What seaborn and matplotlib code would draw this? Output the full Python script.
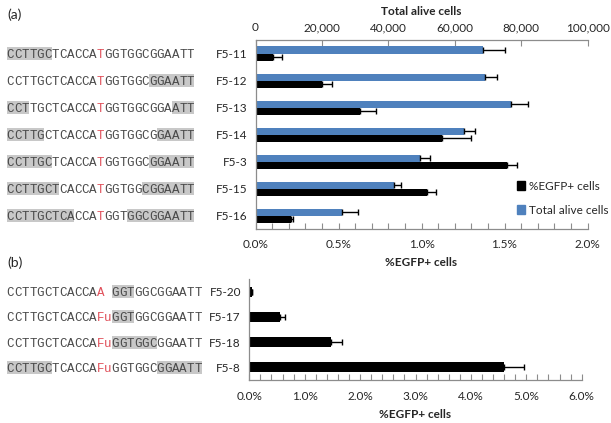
import matplotlib
matplotlib.use('Agg')
import matplotlib.pyplot as plt
import matplotlib.transforms as mtransforms
from matplotlib.patches import Rectangle
from matplotlib.ticker import MultipleLocator, FuncFormatter
import numpy as np
import pandas as pd
import seaborn as sns

# ---- data ----
samples_a = ['F5-11', 'F5-12', 'F5-13', 'F5-14', 'F5-3', 'F5-15', 'F5-16']
egfp_a = [0.104, 0.40, 0.628, 1.125, 1.513, 1.034, 0.214]
egfp_a_err = [0.054, 0.063, 0.098, 0.175, 0.064, 0.052, 0.014]
total_a = [68600, 69200, 76900, 62700, 49500, 41700, 26000]
total_a_err = [6500, 3600, 5300, 3300, 3200, 2000, 4800]

samples_b = ['F5-20', 'F5-17', 'F5-18', 'F5-8']
egfp_b = [0.04, 0.554, 1.48, 4.60]
egfp_b_err = [0.01, 0.09, 0.20, 0.36]

seqs_a = ['CCTTGCTCACCATGGTGGCGGAATT'] * 7
boxes_a = [[(0, 6)], [(19, 25)], [(0, 3), (22, 25)], [(0, 5), (20, 25)],
           [(0, 6), (19, 25)], [(0, 7), (18, 25)], [(0, 9), (16, 25)]]
red_a = [[12]] * 7

seqs_b = ['CCTTGCTCACCAA GGTGGCGGAATT', 'CCTTGCTCACCAFuGGTGGCGGAATT',
          'CCTTGCTCACCAFuGGTGGCGGAATT', 'CCTTGCTCACCAFuGGTGGCGGAATT']
boxes_b = [[(14, 17)], [(14, 17)], [(14, 20)], [(0, 6), (20, 26)]]
red_b = [[12], [12, 13], [12, 13], [12, 13]]

TOTAL_MAX = 100000
PCT_MAX_A = 2.0
PCT_MAX_B = 6.0

BLUE = '#4f81bd'
GRAY_AX = '#8c8c8c'
TXT = '#262626'
SEQ_TXT = '#4a4a4a'
SEQ_RED = '#e0505a'
HILITE = '#c8c8c8'
FS = 8.5

W, H = 611, 423

sns.set_theme(style='white')
plt.rcParams['font.family'] = ['Lato', 'DejaVu Sans']
plt.rcParams['font.size'] = FS

fig = plt.figure(figsize=(W / 100, H / 100), dpi=100)
ax_a = fig.add_axes([255.5 / W, 1 - 229.3 / H, 332 / W, 189.3 / H])
ax_b = fig.add_axes([249.3 / W, 1 - 380 / H, 332.4 / W, 101 / H])

# ---- panel (a): both series on one axis, totals rescaled to the % axis ----
scale = PCT_MAX_A / TOTAL_MAX
df_a = pd.DataFrame({
    'sample': samples_a * 2,
    'series': ['Total alive cells'] * len(samples_a) + ['%EGFP+ cells'] * len(samples_a),
    'value': [t * scale for t in total_a] + egfp_a,
})
hue_order = ['Total alive cells', '%EGFP+ cells']
sns.barplot(data=df_a, y='sample', x='value', hue='series', hue_order=hue_order,
            palette={'Total alive cells': BLUE, '%EGFP+ cells': 'black'},
            width=0.52, saturation=1, linewidth=0, legend=False, ax=ax_a)

errs = [[e * scale for e in total_a_err], egfp_a_err]
for cont, err in zip(ax_a.containers, errs):
    xs = [b.get_width() for b in cont]
    ys = [b.get_y() + b.get_height() / 2 for b in cont]
    ax_a.errorbar(xs, ys, xerr=[np.zeros(len(err)), err], fmt='none',
                  ecolor='black', elinewidth=1, capsize=2.5, capthick=1)

# ---- panel (b) ----
df_b = pd.DataFrame({'sample': samples_b, 'value': egfp_b})
sns.barplot(data=df_b, y='sample', x='value', color='black', width=0.4,
            saturation=1, linewidth=0, ax=ax_b)
cont = ax_b.containers[0]
ax_b.errorbar([b.get_width() for b in cont],
              [b.get_y() + b.get_height() / 2 for b in cont],
              xerr=[np.zeros(len(egfp_b_err)), egfp_b_err], fmt='none',
              ecolor='black', elinewidth=1, capsize=2.5, capthick=1)

pct_fmt = FuncFormatter(lambda v, p: f'{v:.1f}%')
for ax, xmax, major, minor, pad in [(ax_a, PCT_MAX_A, 0.5, 0.1, 7),
                                     (ax_b, PCT_MAX_B, 1.0, 0.2, 8)]:
    ax.set_xlim(0, xmax)
    ax.xaxis.set_major_locator(MultipleLocator(major))
    ax.xaxis.set_minor_locator(MultipleLocator(minor))
    ax.xaxis.set_major_formatter(pct_fmt)
    ax.tick_params(axis='x', which='both', direction='in', length=4,
                   color=GRAY_AX, width=0.8, labelsize=FS, labelcolor=TXT, pad=pad,
                   bottom=True)
    ax.tick_params(axis='y', length=0, labelsize=FS, labelcolor=TXT, pad=6)
    ax.set_xlabel('%EGFP+ cells', fontsize=FS, fontweight='bold', color=TXT, labelpad=5)
    ax.set_ylabel('')
    for s in ['top', 'right']:
        ax.spines[s].set_visible(False)
    for s in ['left', 'bottom']:
        ax.spines[s].set_color(GRAY_AX)
        ax.spines[s].set_linewidth(0.9)
    ax.grid(False)

ax_a.set_ylim(len(samples_a) - 0.5, -0.5)
ax_b.set_ylim(len(samples_b) - 0.5, -0.5)

sec = ax_a.secondary_xaxis('top', functions=(lambda x: x / scale, lambda v: v * scale))
sec.set_xticks(np.arange(0, TOTAL_MAX + 1, 20000))
sec.xaxis.set_major_formatter(FuncFormatter(lambda v, p: f'{v:,.0f}'))
sec.tick_params(axis='x', direction='in', length=4, color=GRAY_AX, width=0.8,
                labelsize=FS, labelcolor=TXT, pad=5)
sec.spines['top'].set_color(GRAY_AX)
sec.spines['top'].set_linewidth(0.9)
sec.set_xlabel('Total alive cells', fontsize=FS, fontweight='bold', color=TXT, labelpad=5)

# legend
handles = [Rectangle((0, 0), 1, 1, color='black'), Rectangle((0, 0), 1, 1, color=BLUE)]
fig.legend(handles, ['%EGFP+ cells', 'Total alive cells'], loc='upper left',
           bbox_to_anchor=(512 / W, 1 - 176 / H), frameon=False, fontsize=FS,
           handlelength=0.7, handleheight=0.7, handletextpad=0.35, labelspacing=1.1,
           borderaxespad=0, labelcolor=TXT)

# ---- sequences drawn to the left of each panel ----
CHAR_W = 7.5
SEQ_X0 = 6.7


def draw_seqs(ax, seqs, boxes, reds, box_h):
    blend = mtransforms.blended_transform_factory(fig.transFigure, ax.transData)
    for row, (seq, bx, rd) in enumerate(zip(seqs, boxes, reds)):
        for start, stop in bx:
            ax.add_patch(Rectangle(((SEQ_X0 + start * CHAR_W) / W, row - box_h / 2),
                                   (stop - start) * CHAR_W / W, box_h, transform=blend,
                                   facecolor=HILITE, lw=0, clip_on=False, zorder=0))
        for i, ch in enumerate(seq):
            if ch == ' ':
                continue
            ax.text((SEQ_X0 + (i + 0.5) * CHAR_W) / W, row, ch, transform=blend,
                    ha='center', va='center_baseline', family='Liberation Mono',
                    fontsize=9, color=SEQ_RED if i in rd else SEQ_TXT, clip_on=False)


draw_seqs(ax_a, seqs_a, boxes_a, red_a, 0.48)
draw_seqs(ax_b, seqs_b, boxes_b, red_b, 0.52)

fig.text(7 / W, 1 - 15 / H, '(a)', fontsize=10, color=TXT, va='center')
fig.text(7 / W, 1 - 263 / H, '(b)', fontsize=10, color=TXT, va='center')

fig.savefig('out.png', dpi=100)
